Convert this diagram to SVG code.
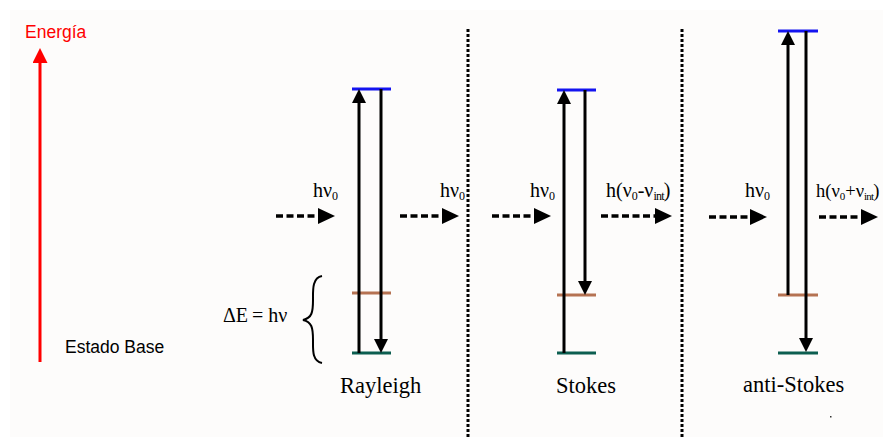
<svg xmlns="http://www.w3.org/2000/svg" width="883" height="437" viewBox="0 0 883 437">
<defs>
<style>
.sans{font-family:"Liberation Sans",Arial,sans-serif;}
.serif{font-family:"Liberation Serif","Times New Roman",serif;fill:#000;}
.lbl{font-size:20px;}
.name{font-size:22.5px;}
.sub{font-size:12px;}
.tr{stroke:#000;stroke-width:3;fill:none;}
.dash{stroke:#000;stroke-width:3.5;stroke-dasharray:7 3.5;fill:none;}
.sep{stroke:#000;stroke-width:3;stroke-dasharray:3 2;fill:none;}
.lvl{stroke-width:3;fill:none;}
.up{stroke:#1414f0;}
.mid{stroke:#b57252;}
.gnd{stroke:#0c5e50;}
</style>
<marker id="ah" viewBox="0 0 14 14" markerWidth="14" markerHeight="14" markerUnits="userSpaceOnUse" refX="10" refY="7" orient="auto">
<path d="M0,0 L14,7 L0,14 z" fill="#000"/>
</marker>
<marker id="dh" viewBox="0 0 17 16" markerWidth="17" markerHeight="16" markerUnits="userSpaceOnUse" refX="12" refY="8" orient="auto">
<path d="M0,0 L17,8 L0,16 z" fill="#000"/>
</marker>
<marker id="rh" viewBox="0 0 15 15" markerWidth="15" markerHeight="15" markerUnits="userSpaceOnUse" refX="10" refY="7.5" orient="auto">
<path d="M0,0 L15,7.5 L0,15 z" fill="#f00"/>
</marker>
</defs>
<rect x="0" y="0" width="883" height="437" fill="#fff"/>
<rect x="10" y="10" width="873" height="427" fill="#fdfcfb"/>

<g id="energy-axis">
<text class="sans" x="25" y="38" font-size="17.5" fill="#f00">Energía</text>
<line x1="40" y1="362" x2="40" y2="53" stroke="#f00" stroke-width="3" marker-end="url(#rh)"/>
<text class="sans" x="65" y="353" font-size="17.5" fill="#000">Estado Base</text>
</g>

<g id="separators">
<line class="sep" x1="468" y1="29" x2="468" y2="437"/>
<line class="sep" x1="682" y1="29" x2="682" y2="437"/>
</g>

<g id="rayleigh">
<line class="lvl up" x1="352" y1="89" x2="391" y2="89"/>
<line class="lvl mid" x1="352" y1="293" x2="391" y2="293"/>
<line class="lvl gnd" x1="352" y1="353" x2="391" y2="353"/>
<text class="serif name" x="340" y="393">Rayleigh</text>
<text class="serif lbl" x="223" y="322">ΔE<tspan x="252">= hν</tspan></text>
<path d="M322,276 C312,278 313,290 313,300 C313,312 312,318 303,320 C312,322 313,328 313,340 C313,350 312,361 322,363" stroke="#000" stroke-width="2" fill="none"/>
</g>

<g id="stokes">
<line class="lvl up" x1="557" y1="90" x2="596" y2="90"/>
<line class="lvl mid" x1="557" y1="295" x2="596" y2="295"/>
<line class="lvl gnd" x1="557" y1="353" x2="596" y2="353"/>
<text class="serif name" x="556" y="393">Stokes</text>
</g>

<g id="anti-stokes">
<line class="lvl up" x1="778" y1="31" x2="818" y2="31"/>
<line class="lvl mid" x1="778" y1="295" x2="818" y2="295"/>
<line class="lvl gnd" x1="778" y1="353" x2="818" y2="353"/>
<text class="serif name" x="743" y="392">anti-Stokes</text>
<rect x="830" y="416" width="1.5" height="1.5" fill="#333"/>
</g>

<g id="connectors">
<line class="tr" x1="359" y1="353" x2="359" y2="93" marker-end="url(#ah)"/>
<line class="tr" x1="381" y1="89" x2="381" y2="349" marker-end="url(#ah)"/>
<line class="tr" x1="564" y1="353" x2="564" y2="94" marker-end="url(#ah)"/>
<line class="tr" x1="585" y1="90" x2="585" y2="291" marker-end="url(#ah)"/>
<line class="tr" x1="788" y1="295" x2="788" y2="35" marker-end="url(#ah)"/>
<line class="tr" x1="806" y1="31" x2="806" y2="348" marker-end="url(#ah)"/>

<line class="dash" x1="276" y1="216" x2="330" y2="216" marker-end="url(#dh)"/>
<line class="dash" x1="400" y1="216" x2="454" y2="216" marker-end="url(#dh)"/>
<line class="dash" x1="492" y1="216" x2="546" y2="216" marker-end="url(#dh)"/>
<line class="dash" x1="601" y1="216" x2="667" y2="216" marker-end="url(#dh)"/>
<line class="dash" x1="709" y1="217" x2="762" y2="217" marker-end="url(#dh)"/>
<line class="dash" x1="819" y1="217" x2="873" y2="217" marker-end="url(#dh)"/>

<text class="serif lbl" x="313" y="197">hν<tspan class="sub" dy="3">0</tspan></text>
<text class="serif lbl" x="440" y="197">hν<tspan class="sub" dy="3">0</tspan></text>
<text class="serif lbl" x="530" y="197">hν<tspan class="sub" dy="3">0</tspan></text>
<text class="serif lbl" x="745" y="197">hν<tspan class="sub" dy="3">0</tspan></text>
<text class="serif lbl" x="606" y="197">h(ν<tspan class="sub" dy="3">0</tspan><tspan dy="-3">-ν</tspan><tspan class="sub" dy="3" letter-spacing="-0.8">int</tspan><tspan dy="-3">)</tspan></text>
<text class="serif" font-size="18.5" x="816" y="197">h(ν<tspan font-size="11" dy="3">0</tspan><tspan dy="-3">+ν</tspan><tspan font-size="11" dy="3" letter-spacing="-0.8">int</tspan><tspan dy="-3">)</tspan></text>
</g>
</svg>
